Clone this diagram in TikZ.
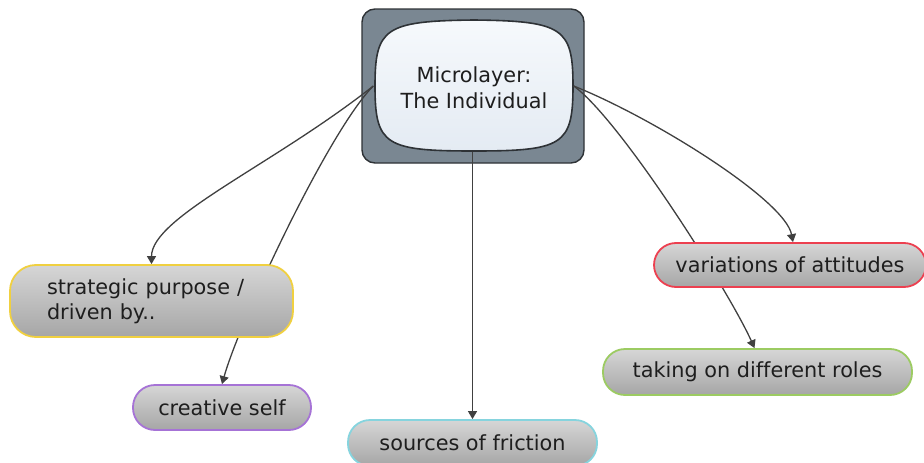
\documentclass[tikz,border=0pt]{standalone}
\usepackage{fontspec}
\setmainfont[Ligatures=NoCommon]{DejaVu Sans}
\usetikzlibrary{arrows.meta,calc}

\definecolor{framegray}{HTML}{7A8792}
\definecolor{frameline}{HTML}{2E3236}
\definecolor{paneltop}{HTML}{F6F9FC}
\definecolor{panelbot}{HTML}{E4EBF3}
\definecolor{boxtop}{HTML}{D6D6D6}
\definecolor{boxbot}{HTML}{A6A6A6}
\definecolor{ink}{HTML}{1E1E1E}
\definecolor{linkgray}{HTML}{404040}
\definecolor{cyellow}{HTML}{F0D040}
\definecolor{cpurple}{HTML}{A673D6}
\definecolor{ccyan}{HTML}{86D4DE}
\definecolor{cred}{HTML}{EC4050}
\definecolor{cgreen}{HTML}{9CCB62}

\pgfdeclarelayer{back}
\pgfdeclarelayer{front}
\pgfsetlayers{back,main,front}

\tikzset{
  topic/.style={draw=#1, line width=1.8pt, rounded corners=22pt,
    top color=boxtop, bottom color=boxbot, text=ink, align=center,
    inner sep=0pt, font=\fontsize{20.8}{25}\selectfont},
  link/.style={draw=linkgray, line width=1.3pt,
    -{Triangle[width=9pt,length=8pt]}},
}

\begin{document}
\begin{tikzpicture}[x=1pt,y=-1pt]
\useasboundingbox (0,0) rectangle (924,463);

% central topic: framed panel with a bulging inner face
\begin{pgfonlayer}{back}
  \node[draw=frameline, line width=1.4pt, fill=framegray, rounded corners=13pt,
        minimum width=222pt, minimum height=154pt, inner sep=0pt]
        (frame) at (473,86) {};
  \path[draw=frameline, line width=1.6pt, top color=paneltop, bottom color=panelbot]
    (375,86) .. controls (375,28) and (385,21) .. (474,20)
             .. controls (563,21) and (573,28) .. (573,86)
             .. controls (573,145) and (563,151) .. (474,151)
             .. controls (385,151) and (375,145) .. (375,86) -- cycle;
\end{pgfonlayer}
\node[text=ink, align=center, font=\fontsize{20.8}{26}\selectfont]
  (core) at (474,88) {Microlayer:\\The Individual};

\coordinate (exitL) at ($(frame.west)+(12,0)$);
\coordinate (exitR) at ($(frame.east)+(-11,0)$);
\coordinate (exitB) at ($(frame.south)+(-0.5,-12)$);

% surrounding topics
\begin{pgfonlayer}{front}
  \node[topic=cyellow, rounded corners=26pt, align=left, text width=209pt,
        inner xsep=37pt, minimum height=72pt]
        (strat) at (151.5,301) {strategic purpose /\\driven by..};
  \node[topic=cpurple, minimum width=178pt, minimum height=45pt]
        (creative) at (222,407.5) {creative self};
  \node[topic=ccyan, minimum width=249pt, minimum height=46pt]
        (friction) at (472.5,443) {sources of friction};
  \node[topic=cred, minimum width=272pt, minimum height=44pt]
        (variations) at (790,265) {variations of attitudes};
  \node[topic=cgreen, minimum width=309pt, minimum height=46pt]
        (roles) at (757.5,372) {taking on different roles};
\end{pgfonlayer}

% connectors
\draw[link] (exitL) .. controls +(-100,79) and +(0,-47) .. (strat.north);
\draw[link] (exitL) .. controls +(-44,44) and +(18,-64) .. (creative.north);
\draw[link] (exitB) -- (friction.north);
\draw[link] (exitR) .. controls +(80,32) and +(-8,-42) .. ($(variations.north)+(3,0)$);
\draw[link] (exitR) .. controls +(47,34) and +(-25,-56) .. ($(roles.north)+(-3,0)$);
\end{tikzpicture}
\end{document}
